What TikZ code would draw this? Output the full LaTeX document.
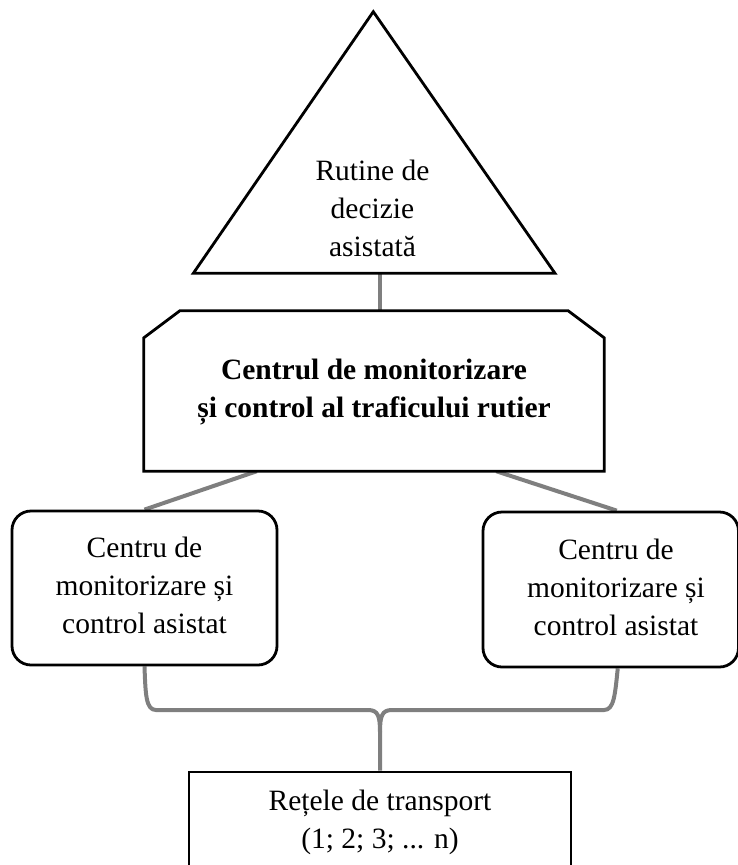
\documentclass[tikz,border=0pt]{standalone}
\usepackage{fontspec}
\setmainfont{Liberation Serif}
\usetikzlibrary{backgrounds}
\definecolor{linegray}{HTML}{7F7F7F}
\begin{document}
\begin{tikzpicture}[x=1pt,y=-1pt,
  txt/.style={font=\fontsize{29.5}{38}\selectfont, align=center, inner sep=0pt},
  blk/.style={draw=black, line width=2.8pt},
  conn/.style={draw=linegray, line width=4pt},
  rbox/.style={blk, txt, rounded corners=19pt, fill=white, minimum width=265pt, minimum height=154pt},
]
\useasboundingbox (0,0) rectangle (738,865);
\clip (0,0) rectangle (738,865);

% triangle
\coordinate (apex) at (373.3,11.7);
\coordinate (tl) at (193.3,273.3);
\coordinate (tr) at (555,273.3);
\coordinate (stem) at (380,273.3);
\draw[blk, fill=white] (apex) -- (tr) -- (tl) -- cycle;
\node[txt] (rut) at (372.5,210.4) {\strut Rutine de\\\strut decizie\\\strut asistată};

% central octagon
\node[txt, font=\fontsize{29.5}{38}\selectfont\bfseries, minimum width=460pt, minimum height=160pt] (ctr) at (374,391)
  {\strut Centrul de monitorizare\\\strut și control al traficului rutier};

% side boxes
\node[rbox] (lb) at (144.5,588) {\strut Centru de\\\strut monitorizare și\\\strut control asistat};
\node[rbox, minimum width=255.5pt, minimum height=155pt] (rb) at (610.75,589.5)
  {\hspace*{10.5pt}\strut Centru de\\\hspace*{10.5pt}\strut monitorizare și\\\hspace*{10.5pt}\strut control asistat};

% bottom box
\node[blk, txt, fill=white, minimum width=382pt, minimum height=98.8pt] (net) at (380,821.4)
  {\strut Rețele de transport\\\strut (1; 2; 3; ... n)};

\begin{scope}[on background layer]
  \draw[conn] (stem) -- (stem |- ctr.north);
  \draw[conn] ([xshift=113pt]ctr.south west) -- (lb.north);
  \draw[conn] ([xshift=-108pt]ctr.south east) -- ([xshift=6pt]rb.north);
  \draw[conn] (lb.south) .. controls (145.5,695) and (146,710) .. (156,710) -- (368,710)
     .. controls (378,710) and (380,716) .. (380,732) -- (net.north);
  \draw[conn] ([xshift=7pt]rb.south) .. controls (615,695) and (614,710) .. (604,710) -- (392,710)
     .. controls (382,710) and (380,716) .. (380,732);
  \draw[blk, fill=white] (ctr.south west) -- ([yshift=-27pt]ctr.north west) -- ([xshift=36pt]ctr.north west)
     -- ([xshift=-36pt]ctr.north east) -- ([yshift=-27pt]ctr.north east) -- (ctr.south east) -- cycle;
\end{scope}
\end{tikzpicture}
\end{document}
